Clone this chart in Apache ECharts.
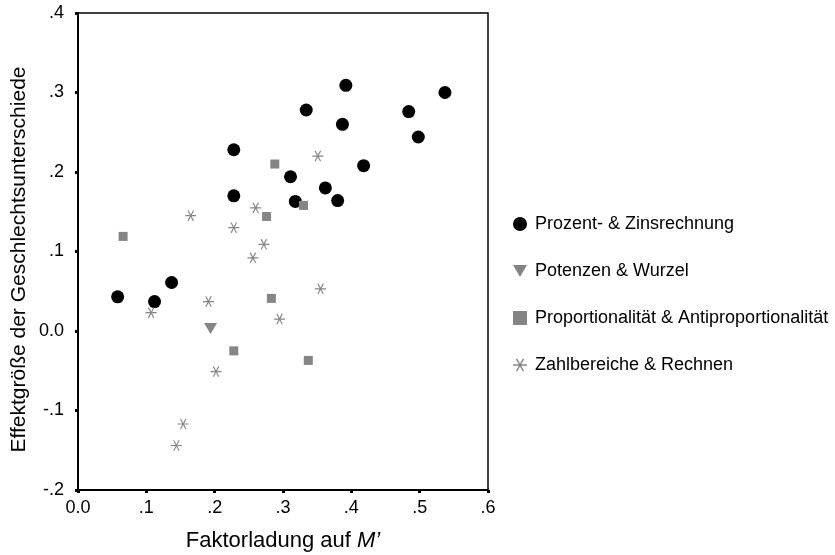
<!DOCTYPE html>
<html>
<head>
<meta charset="utf-8">
<script src="https://cdn.jsdelivr.net/npm/echarts@6/dist/echarts.min.js"></script>
<style>
  html, body { margin: 0; padding: 0; background: #fff; }
  #chart { width: 835px; height: 555px; }
</style>
</head>
<body>
<div id="chart"></div>
<script>
// [Faktorladung, Effektgröße] je Themenbereich
var prozent = [
  [0.392, 0.309], [0.537, 0.300], [0.334, 0.278], [0.484, 0.276],
  [0.387, 0.260], [0.498, 0.244], [0.228, 0.228], [0.418, 0.208],
  [0.311, 0.194], [0.362, 0.180], [0.228, 0.170], [0.318, 0.163],
  [0.380, 0.164], [0.058, 0.043], [0.112, 0.037], [0.137, 0.061]
];
var potenzen = [[0.194, 0.003]];
var proportional = [
  [0.288, 0.210], [0.066, 0.119], [0.276, 0.144], [0.330, 0.158],
  [0.283, 0.041], [0.228, -0.025], [0.337, -0.037]
];
var zahlbereiche = [
  [0.351, 0.220], [0.165, 0.145], [0.260, 0.155], [0.228, 0.130],
  [0.272, 0.109], [0.256, 0.092], [0.355, 0.053], [0.191, 0.037],
  [0.107, 0.023], [0.295, 0.015], [0.202, -0.051], [0.154, -0.117],
  [0.144, -0.144]
];
var seriesNames = [
  'Prozent- & Zinsrechnung',
  'Potenzen & Wurzel',
  'Proportionalität & Antiproportionalität',
  'Zahlbereiche & Rechnen'
];
var xTickLabels = ['0.0', '.1', '.2', '.3', '.4', '.5', '.6'];
var yTickLabels = ['-.2', '-.1', '0.0', '.1', '.2', '.3', '.4'];

var font = 'Liberation Sans, Arial, sans-serif';
var grey = '#858585';
// Sternchen: waagrechter Balken + zwei Diagonalen
var star = 'path://M0 45L100 45L100 55L0 55Z' +
  'M70.67 4.2L79.33 9.2L29.33 95.8L20.67 90.8Z' +
  'M29.33 4.2L79.33 90.8L70.67 95.8L20.67 9.2Z';
var downTri = 'path://M0 0L100 0L50 87Z';

var chart = echarts.init(document.getElementById('chart'));

chart.setOption({
  animation: false,
  textStyle: { fontFamily: font },
  grid: {
    left: 78, right: 347, top: 13, bottom: 65,
    outerBoundsMode: 'none',
    show: true, borderColor: '#000', borderWidth: 1.5
  },
  legend: {
    orient: 'vertical',
    left: 508,
    top: 210,
    itemWidth: 14,
    itemHeight: 14,
    itemGap: 29,
    textStyle: { fontSize: 18, color: '#000', padding: [0, 0, 0, 3] },
    data: [
      { name: seriesNames[0] },
      { name: seriesNames[1], icon: downTri },
      { name: seriesNames[2] },
      { name: seriesNames[3] }
    ]
  },
  xAxis: {
    type: 'value',
    min: 0, max: 0.6, interval: 0.1,
    name: 'Faktorladung auf {i|M\u2019}',
    nameLocation: 'middle',
    nameGap: 40,
    nameTextStyle: {
      fontSize: 22, color: '#000',
      rich: { i: { fontSize: 22, fontStyle: 'italic', color: '#000' } }
    },
    axisLine: { onZero: false, lineStyle: { color: '#000', width: 2 } },
    axisTick: { length: 3, lineStyle: { color: '#000', width: 3 } },
    axisLabel: {
      fontSize: 18, color: '#000', margin: 9,
      formatter: function (v) { return xTickLabels[Math.round(v * 10)]; }
    },
    splitLine: { show: false }
  },
  yAxis: {
    type: 'value',
    min: -0.2, max: 0.4, interval: 0.1,
    name: 'Effektgröße der Geschlechtsunterschiede',
    nameLocation: 'middle',
    nameRotate: 90,
    nameGap: 48,
    nameTextStyle: { fontSize: 21, color: '#000', padding: [0, 16, 0, 0] },
    axisLine: { onZero: false, lineStyle: { color: '#000', width: 2 } },
    axisTick: { length: 3, lineStyle: { color: '#000', width: 3 } },
    axisLabel: {
      fontSize: 18, color: '#000', margin: 14,
      formatter: function (v) { return yTickLabels[Math.round(v * 10) + 2]; }
    },
    splitLine: { show: false }
  },
  series: [
    {
      name: seriesNames[0], type: 'scatter', data: prozent,
      symbol: 'circle', symbolSize: 13,
      itemStyle: { color: '#000', opacity: 1 }
    },
    {
      name: seriesNames[1], type: 'scatter', data: potenzen,
      symbol: downTri, symbolSize: [13, 11],
      itemStyle: { color: grey, opacity: 1 }
    },
    {
      name: seriesNames[2], type: 'scatter', data: proportional,
      symbol: 'rect', symbolSize: 9,
      itemStyle: { color: grey, opacity: 1 }
    },
    {
      name: seriesNames[3], type: 'scatter', data: zahlbereiche,
      symbol: star, symbolSize: 11,
      itemStyle: { color: grey, opacity: 1 }
    }
  ]
});
</script>
</body>
</html>
